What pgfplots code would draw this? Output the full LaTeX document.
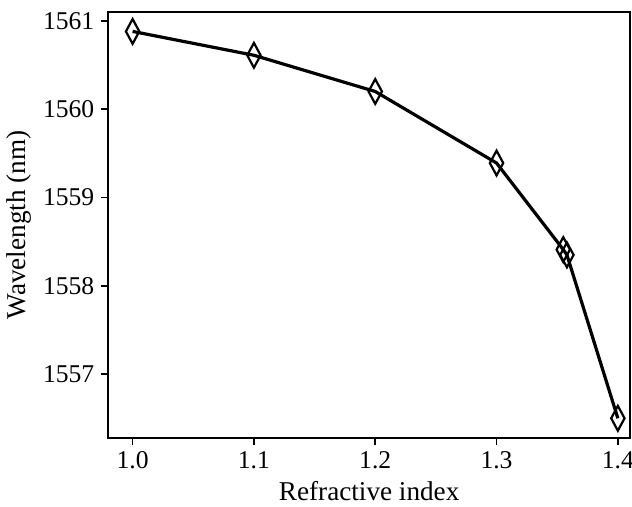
\documentclass[border=0pt]{standalone}
\usepackage{fontspec}
\setmainfont{Liberation Serif}
\usepackage{pgfplots}
\pgfplotsset{compat=1.18}

\begin{document}
\begin{tikzpicture}
\begin{axis}[
  name=ax,
  scale only axis,
  width=261pt, height=213pt,
  xmin=0.98, xmax=1.41,
  ymin=1556.28, ymax=1561.1,
  xtick={1.0,1.1,1.2,1.3,1.4},
  ytick={1557,1558,1559,1560,1561},
  xticklabel style={/pgf/number format/.cd,fixed,fixed zerofill,precision=1},
  yticklabel style={/pgf/number format/.cd,fixed,1000 sep={}},
  /pgf/number format/assume math mode=true,
  tick align=outside,
  xtick pos=bottom, ytick pos=left,
  major tick length=3.5pt,
  every tick/.style={black, line width=0.9pt},
  axis line style={line width=0.9pt},
  tick label style={font=\fontsize{12.8}{14}\selectfont},
  label style={font=\fontsize{13.6}{15}\selectfont},
  xlabel={Refractive index},
  ylabel={Wavelength (nm)},
  xlabel style={yshift=1pt},
  ylabel style={yshift=-1pt},
]
\addplot[black, line width=1.6pt, mark=diamond, mark size=6.2pt,
  mark options={xscale=0.72, line width=1.1pt, fill=none, solid}]
  coordinates {
  (1.0,1560.88)
  (1.1,1560.61)
  (1.2,1560.20)
  (1.3,1559.39)
  (1.355,1558.41)
  (1.358,1558.35)
  (1.4,1556.50)
};
\end{axis}
\pgfresetboundingbox
\path (ax.outer south west) rectangle ([xshift=1pt,yshift=6pt]ax.north east);
\end{tikzpicture}
\end{document}
